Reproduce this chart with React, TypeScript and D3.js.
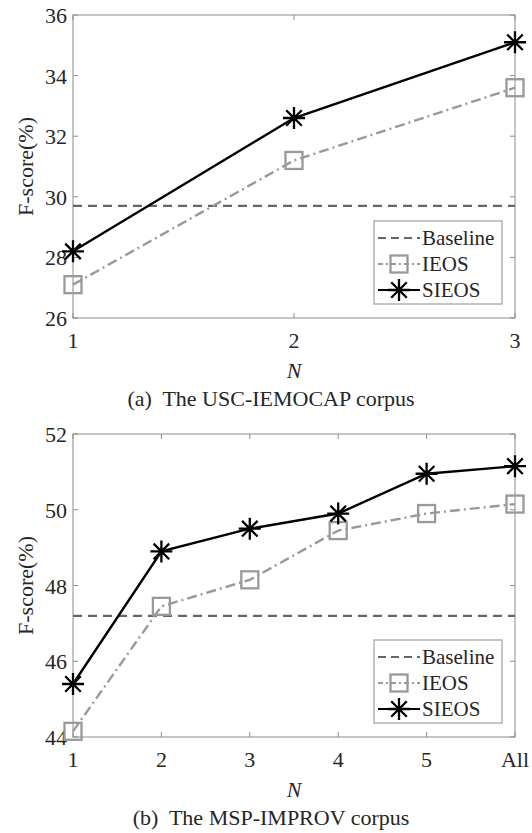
import React, { useEffect, useRef } from 'react';
import * as d3 from 'd3';

// panel (a) USC-IEMOCAP
const catsA = ['1', '2', '3'];
const baselineA = 29.7;
const ieosA = [27.1, 31.2, 33.6];
const sieosA = [28.2, 32.6, 35.1];
const yTicksA = [26, 28, 30, 32, 34, 36];

// panel (b) MSP-IMPROV
const catsB = ['1', '2', '3', '4', '5', 'All'];
const baselineB = 47.2;
const ieosB = [44.15, 47.45, 48.15, 49.45, 49.9, 50.15];
const sieosB = [45.4, 48.9, 49.5, 49.9, 50.95, 51.15];
const yTicksB = [44, 46, 48, 50, 52];

const legendNames = ['Baseline', 'IEOS', 'SIEOS'];

const W = 532;
const H = 833;
const serif = "'Liberation Serif', 'Times New Roman', Times, serif";
const axisGray = '#8c8c8c';
const baseColor = '#666666';
const ieosColor = '#999999';
const textColor = '#262626';

const drawStar = (g, cx, cy, r) => {
  const d = r * Math.SQRT1_2;
  const path = `M${cx - r},${cy}L${cx + r},${cy}M${cx},${cy - r}L${cx},${cy + r}` +
    `M${cx - d},${cy - d}L${cx + d},${cy + d}M${cx - d},${cy + d}L${cx + d},${cy - d}`;
  g.append('path').attr('d', path).attr('stroke', '#000').attr('stroke-width', 2.3).attr('fill', 'none');
};

const drawSquare = (g, cx, cy, s) => {
  g.append('rect')
    .attr('x', cx - s / 2)
    .attr('y', cy - s / 2)
    .attr('width', s)
    .attr('height', s)
    .attr('fill', 'none')
    .attr('stroke', ieosColor)
    .attr('stroke-width', 2.3);
};

const addText = (g, x, y, str, size, anchor = 'middle') =>
  g
    .append('text')
    .attr('x', x)
    .attr('y', y)
    .attr('text-anchor', anchor)
    .style('font-family', serif)
    .style('font-size', `${size}px`)
    .attr('fill', textColor)
    .text(str);

const drawPanel = (svg, opts) => {
  const { top, cats, baseline, ieos, sieos, yTicks, caption } = opts;
  const left = 73;
  const right = 515;
  const bottom = top + 303;

  const x = d3.scalePoint().domain(cats).range([left, right]);
  const y = d3.scaleLinear().domain([yTicks[0], yTicks[yTicks.length - 1]]).range([bottom, top]);

  const g = svg.append('g');

  // box
  g.append('rect')
    .attr('x', left)
    .attr('y', top)
    .attr('width', right - left)
    .attr('height', bottom - top)
    .attr('fill', 'none')
    .attr('stroke', axisGray)
    .attr('stroke-width', 1);

  // ticks (inward, mirrored)
  const tl = 5;
  cats.forEach((c) => {
    g.append('line').attr('x1', x(c)).attr('x2', x(c)).attr('y1', bottom).attr('y2', bottom - tl).attr('stroke', axisGray);
    g.append('line').attr('x1', x(c)).attr('x2', x(c)).attr('y1', top).attr('y2', top + tl).attr('stroke', axisGray);
    addText(g, x(c), bottom + 30, c, 22);
  });
  yTicks.forEach((t) => {
    g.append('line').attr('x1', left).attr('x2', left + tl).attr('y1', y(t)).attr('y2', y(t)).attr('stroke', axisGray);
    g.append('line').attr('x1', right).attr('x2', right - tl).attr('y1', y(t)).attr('y2', y(t)).attr('stroke', axisGray);
    addText(g, left - 6, y(t) + 8, t, 22, 'end');
  });

  // axis labels
  addText(g, (left + right) / 2, bottom + 60, 'N', 22).style('font-style', 'italic');
  addText(g, 0, 0, 'F-score(%)', 22).attr('transform', `translate(33,${(top + bottom) / 2}) rotate(-90)`);

  // caption
  addText(g, 271, bottom + 88, caption, 22).attr('xml:space', 'preserve');

  // baseline
  g.append('line')
    .attr('x1', left)
    .attr('x2', right)
    .attr('y1', y(baseline))
    .attr('y2', y(baseline))
    .attr('stroke', baseColor)
    .attr('stroke-width', 2.2)
    .attr('stroke-dasharray', '9,6');

  const line = d3
    .line()
    .x((d, i) => x(cats[i]))
    .y((d) => y(d));

  g.append('path')
    .attr('d', line(ieos))
    .attr('fill', 'none')
    .attr('stroke', ieosColor)
    .attr('stroke-width', 2.4)
    .attr('stroke-dasharray', '10,4,2,4');
  ieos.forEach((v, i) => drawSquare(g, x(cats[i]), y(v), 17));

  g.append('path')
    .attr('d', line(sieos))
    .attr('fill', 'none')
    .attr('stroke', '#000')
    .attr('stroke-width', 2.4);
  sieos.forEach((v, i) => drawStar(g, x(cats[i]), y(v), 11));

  // legend
  const lx = 374;
  const ly = top + 206;
  g.append('rect')
    .attr('x', lx)
    .attr('y', ly)
    .attr('width', 128)
    .attr('height', 83)
    .attr('fill', '#fff')
    .attr('stroke', axisGray)
    .attr('stroke-width', 1);
  legendNames.forEach((name, i) => {
    const cy = ly + 17 + i * 26;
    const styles = [
      { color: baseColor, dash: '8,5' },
      { color: ieosColor, dash: '5,3,2,3' },
      { color: '#000', dash: null },
    ][i];
    const l = g
      .append('line')
      .attr('x1', lx + 4)
      .attr('x2', lx + 46)
      .attr('y1', cy)
      .attr('y2', cy)
      .attr('stroke', styles.color)
      .attr('stroke-width', 2.2);
    if (styles.dash) l.attr('stroke-dasharray', styles.dash);
    if (i === 1) drawSquare(g, lx + 25, cy, 17);
    if (i === 2) drawStar(g, lx + 25, cy, 11);
    addText(g, lx + 48, cy + 7, name, 21, 'start');
  });
};

const App = () => {
  const ref = useRef(null);

  useEffect(() => {
    const svg = d3.select(ref.current);
    svg.selectAll('*').remove();
    drawPanel(svg, {
      top: 15,
      cats: catsA,
      baseline: baselineA,
      ieos: ieosA,
      sieos: sieosA,
      yTicks: yTicksA,
      caption: '(a)  The USC-IEMOCAP corpus',
    });
    drawPanel(svg, {
      top: 434,
      cats: catsB,
      baseline: baselineB,
      ieos: ieosB,
      sieos: sieosB,
      yTicks: yTicksB,
      caption: '(b)  The MSP-IMPROV corpus',
    });
  }, []);

  return (
    <div style={{ position: 'absolute', left: 0, top: 0, width: W, height: H, background: '#fff' }}>
      <svg ref={ref} width={W} height={H} />
    </div>
  );
};

export default App;
